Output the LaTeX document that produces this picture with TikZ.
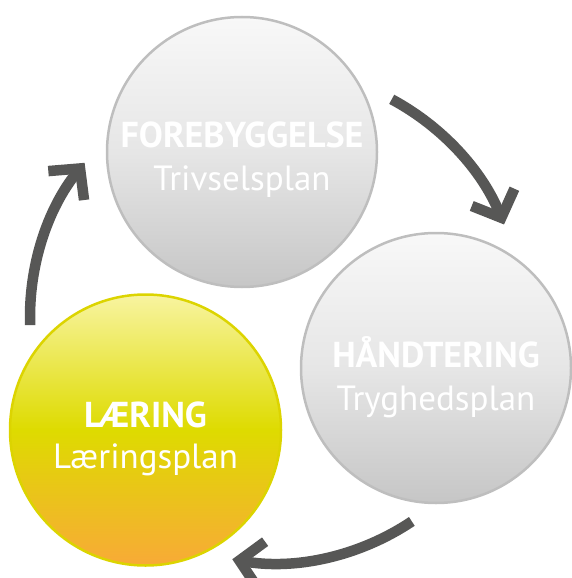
\documentclass[tikz,border=0pt]{standalone}
\usepackage{fontspec}
\setmainfont{PT Sans}
\usetikzlibrary{arrows.meta,calc}
\definecolor{arrowgray}{HTML}{575756}
\definecolor{rimgray}{HTML}{BEBEBE}
\definecolor{rimyellow}{HTML}{DCD400}
\definecolor{gtop}{HTML}{F8F8F8}
\definecolor{gmid}{HTML}{E6E6E6}
\definecolor{gbot}{HTML}{C6C6C6}
\definecolor{ytop}{HTML}{F8F4A0}
\definecolor{ymid}{HTML}{DEDB00}
\definecolor{ybot}{HTML}{F8AA37}
\tikzset{
  graycirc/.style={circle, minimum size=270pt, inner sep=0pt, draw=rimgray, line width=2.5pt,
    top color=gtop, bottom color=gbot, middle color=gmid},
  yellowcirc/.style={circle, minimum size=271pt, inner sep=0pt, draw=rimyellow, line width=2.5pt,
    top color=ytop, bottom color=ybot, middle color=ymid},
  titletext/.style={anchor=base, text=white, font=\bfseries\fontsize{36}{36}\selectfont},
  subtext/.style={anchor=base, text=white, font=\fontsize{35}{35}\selectfont},
  cyclearrow/.style={draw=arrowgray, line width=10.5pt, line cap=butt,
    -{Straight Barb[length=22pt,width=46pt,line cap=butt,line join=miter]}}
}
\begin{document}
\begin{tikzpicture}[x=1pt,y=-1pt]
\useasboundingbox (0,0) rectangle (571,578);
% circles
\node[graycirc] (fore) at (242,152) {};
\node[graycirc] (hand) at (436,368) {};
\node[yellowcirc] (laer) at (145.5,430) {};
% texts
\node[titletext] (foret) at ($(fore.center)+(0,-5)$) {FOREBYGGELSE};
\node[subtext] (fores) at ($(fore.center)+(0,38)$) {Trivselsplan};
\node[titletext] (handt) at ($(hand.center)+(0,-1)$) {HÅNDTERING};
\node[subtext] (hands) at ($(hand.center)+(0,42)$) {Tryghedsplan};
\node[titletext] (laert) at ($(laer.center)+(0,-3)$) {LÆRING};
\node[subtext] (laers) at ($(laer.center)+(0,38)$) {Læringsplan};
% arrows
\coordinate (O) at (275,317);
\draw[cyclearrow] ($(O)+(-61.8:247)$) coordinate (a1s) arc[start angle=-61.8, end angle=-22, radius=247];
\draw[cyclearrow] ($(O)+(56.2:246)$) coordinate (a2s) arc[start angle=56.2, end angle=100, radius=246];
\draw[cyclearrow] ($(O)+(178.1:245)$) coordinate (a3s) arc[start angle=178.1, end angle=219, radius=245];
\end{tikzpicture}
\end{document}
